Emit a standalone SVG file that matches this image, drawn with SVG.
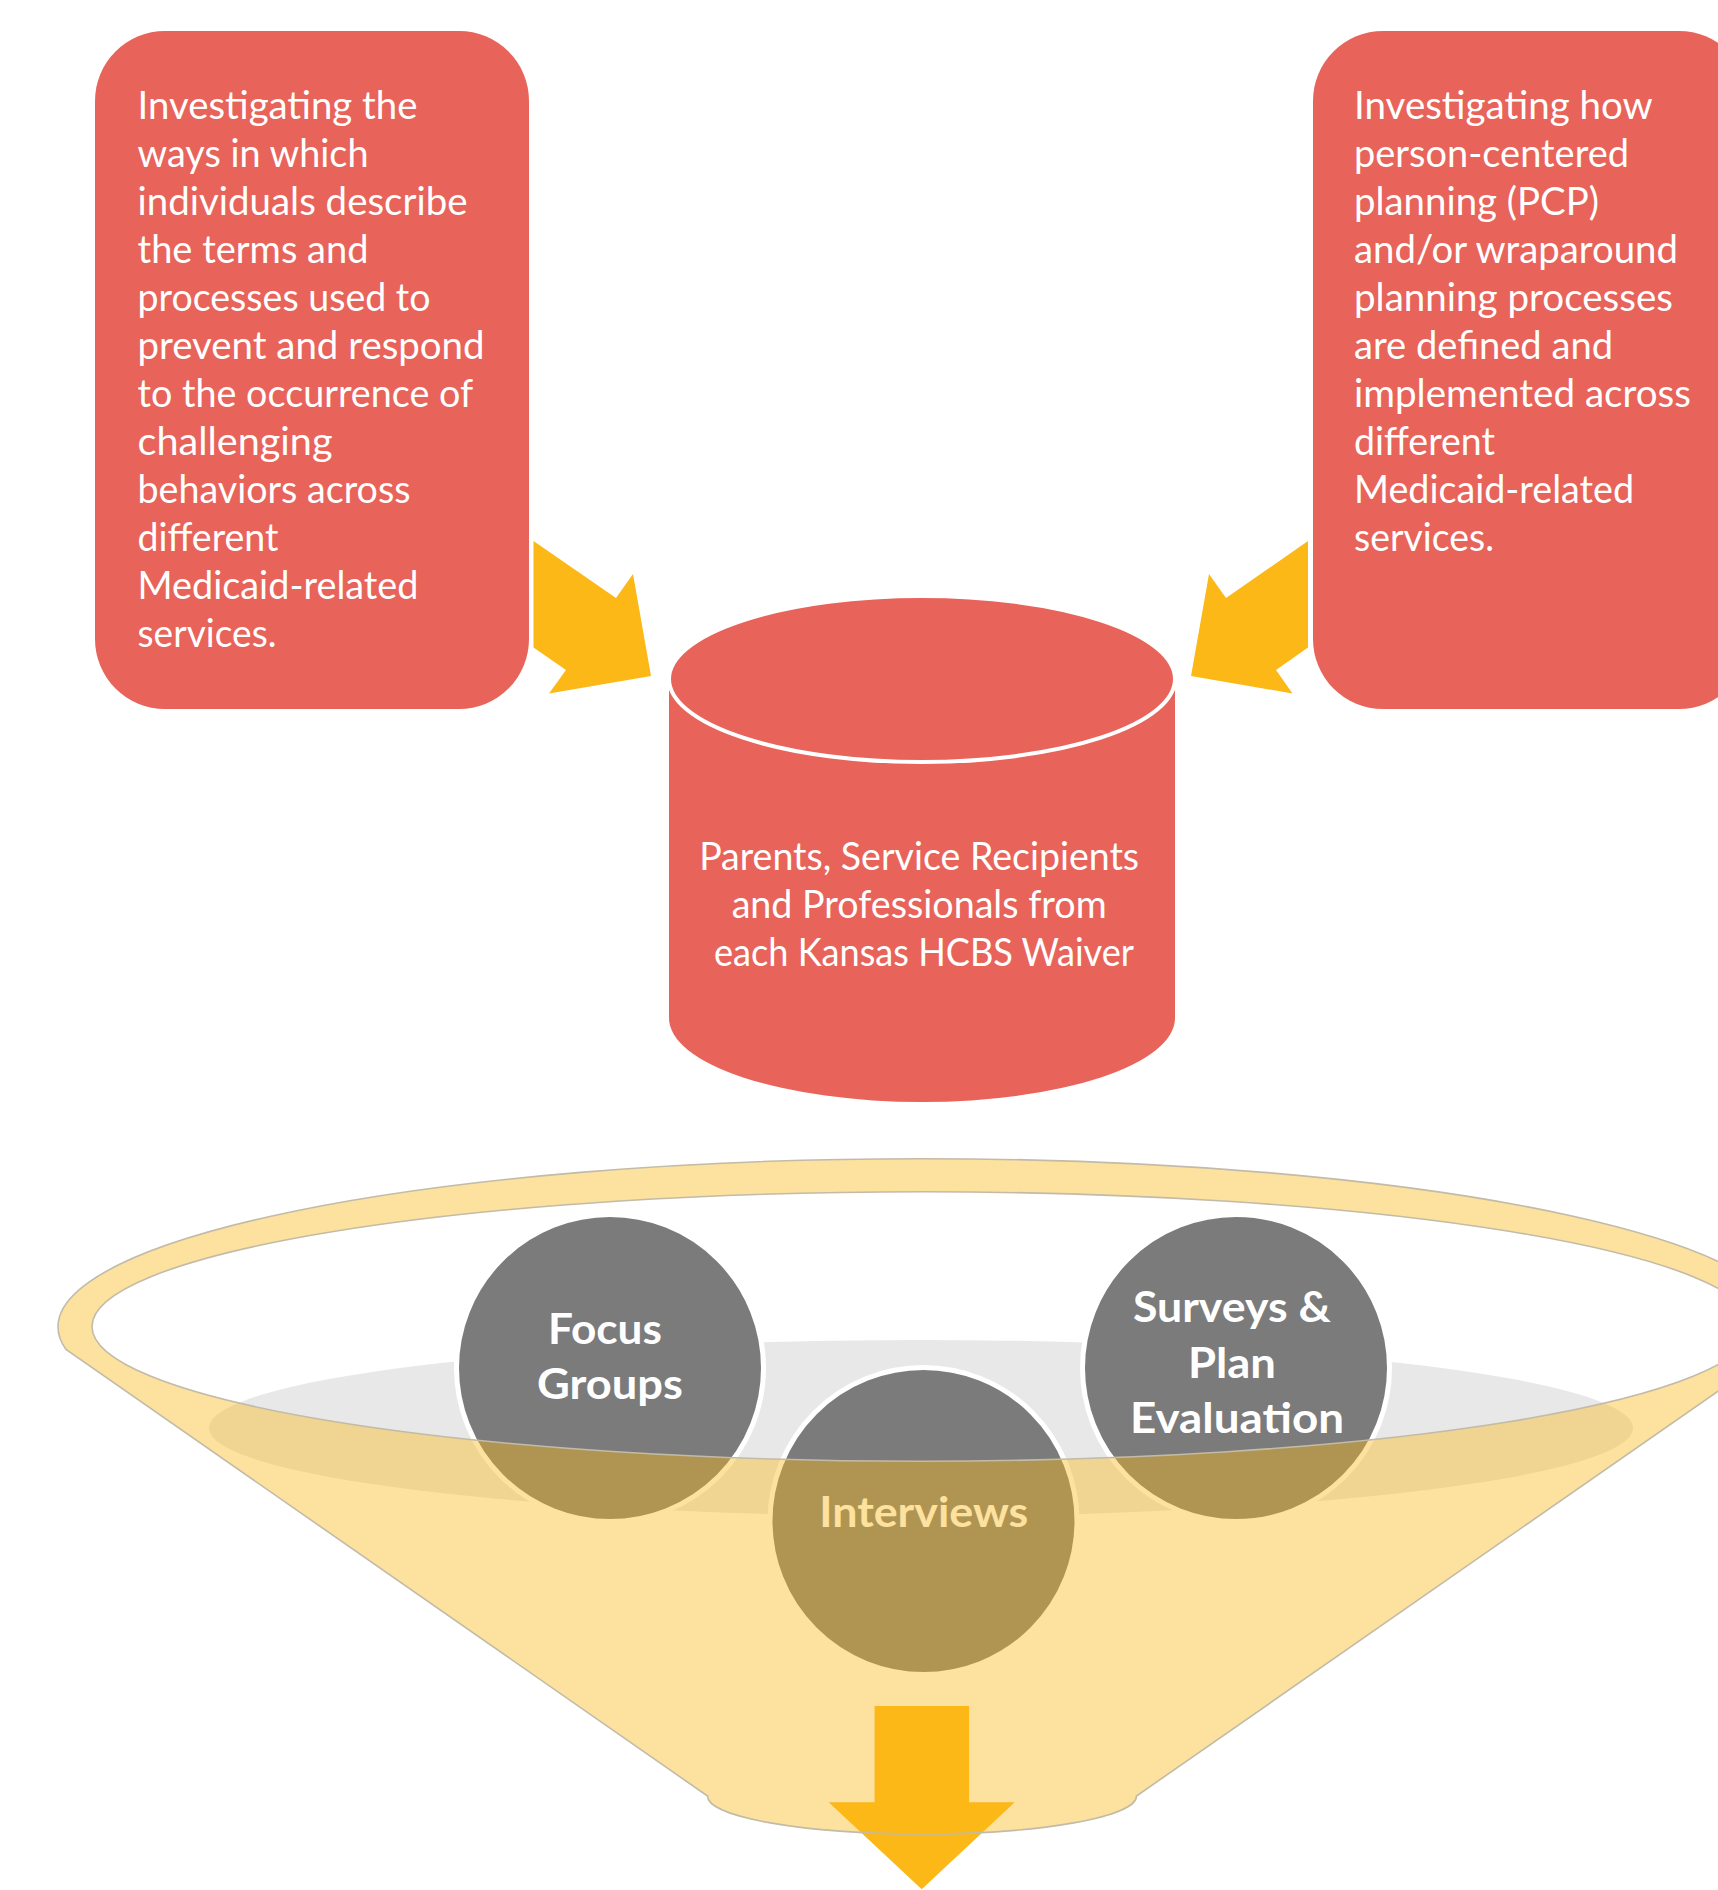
<svg xmlns="http://www.w3.org/2000/svg" width="1718" height="1890" viewBox="0 0 1718 1890">
<style>
.box{fill:#E8635A;}
.btxt{font-family:Lato,"Open Sans","Liberation Sans",sans-serif;font-size:38px;fill:#FFFFFF;}
.ctxt{font-family:Lato,"Open Sans","Liberation Sans",sans-serif;font-size:38px;fill:#FFFFFF;text-anchor:middle;}
.circ{fill:#7B7B7B;stroke:#FFFFFF;stroke-width:5;}
.ktxt{font-family:Lato,"Open Sans","Liberation Sans",sans-serif;font-size:42px;font-weight:bold;fill:#FFFFFF;text-anchor:middle;}
.arrow{fill:#FBB817;}
</style>
<rect width="1718" height="1890" fill="#FFFFFF"/>

<g id="box-left">
<rect class="box" x="95" y="31" width="434" height="678" rx="70" ry="70"/>
<text class="btxt">
<tspan x="137.5" y="118.5" textLength="280" lengthAdjust="spacingAndGlyphs">Investigating the</tspan>
<tspan x="137.5" y="166.5" textLength="231" lengthAdjust="spacingAndGlyphs">ways in which</tspan>
<tspan x="137.5" y="214.5" textLength="330" lengthAdjust="spacingAndGlyphs">individuals describe</tspan>
<tspan x="137.5" y="262.5" textLength="231" lengthAdjust="spacingAndGlyphs">the terms and</tspan>
<tspan x="137.5" y="310.5" textLength="293" lengthAdjust="spacingAndGlyphs">processes used to</tspan>
<tspan x="137.5" y="358.5" textLength="347" lengthAdjust="spacingAndGlyphs">prevent and respond</tspan>
<tspan x="137.5" y="406.5" textLength="335" lengthAdjust="spacingAndGlyphs">to the occurrence of</tspan>
<tspan x="137.5" y="454.5" textLength="195" lengthAdjust="spacingAndGlyphs">challenging</tspan>
<tspan x="137.5" y="502.5" textLength="273" lengthAdjust="spacingAndGlyphs">behaviors across</tspan>
<tspan x="137.5" y="550.5" textLength="141" lengthAdjust="spacingAndGlyphs">different</tspan>
<tspan x="137.5" y="598.5" textLength="281" lengthAdjust="spacingAndGlyphs">Medicaid-related</tspan>
<tspan x="137.5" y="646.5" textLength="139" lengthAdjust="spacingAndGlyphs">services.</tspan>
</text>
</g>

<g id="box-right">
<rect class="box" x="1313" y="31" width="436" height="678" rx="70" ry="70"/>
<text class="btxt">
<tspan x="1354" y="118.5" textLength="298" lengthAdjust="spacingAndGlyphs">Investigating how</tspan>
<tspan x="1354" y="166.5" textLength="275" lengthAdjust="spacingAndGlyphs">person-centered</tspan>
<tspan x="1354" y="214.5" textLength="245" lengthAdjust="spacingAndGlyphs">planning (PCP)</tspan>
<tspan x="1354" y="262.5" textLength="324" lengthAdjust="spacingAndGlyphs">and/or wraparound</tspan>
<tspan x="1354" y="310.5" textLength="319" lengthAdjust="spacingAndGlyphs">planning processes</tspan>
<tspan x="1354" y="358.5" textLength="259" lengthAdjust="spacingAndGlyphs">are defined and</tspan>
<tspan x="1354" y="406.5" textLength="337" lengthAdjust="spacingAndGlyphs">implemented across</tspan>
<tspan x="1354" y="454.5" textLength="141" lengthAdjust="spacingAndGlyphs">different</tspan>
<tspan x="1354" y="502.5" textLength="280" lengthAdjust="spacingAndGlyphs">Medicaid-related</tspan>
<tspan x="1354" y="550.5" textLength="140" lengthAdjust="spacingAndGlyphs">services.</tspan>
</text>
</g>

<g id="cylinder">
<path class="box" d="M669 679 L669 1018 A253 84 0 0 0 1175 1018 L1175 679 Z"/>
<ellipse class="box" cx="922" cy="679" rx="253" ry="83" stroke="#FFFFFF" stroke-width="4"/>
<text class="ctxt">
<tspan x="924" y="870" textLength="440" lengthAdjust="spacingAndGlyphs">Parents, Service Recipients</tspan>
<tspan x="924" y="918" textLength="375" lengthAdjust="spacingAndGlyphs">and Professionals from</tspan>
<tspan x="924" y="966" textLength="420" lengthAdjust="spacingAndGlyphs">each Kansas HCBS Waiver</tspan>
</text>
</g>

<g id="funnel-liquid">
<ellipse cx="921" cy="1428" rx="712" ry="88" fill="#E8E8E8"/>
</g>

<g id="node-focus-groups">
<circle class="circ" cx="610" cy="1368" r="153.5"/>
<text class="ktxt">
<tspan x="610" y="1344" textLength="114" lengthAdjust="spacingAndGlyphs">Focus</tspan>
<tspan x="610" y="1398.5" textLength="146" lengthAdjust="spacingAndGlyphs">Groups</tspan>
</text>
</g>

<g id="node-surveys">
<circle class="circ" cx="1236" cy="1368" r="153.5"/>
<text class="ktxt">
<tspan x="1237" y="1322" textLength="198" lengthAdjust="spacingAndGlyphs">Surveys &amp;</tspan>
<tspan x="1237" y="1378" textLength="88" lengthAdjust="spacingAndGlyphs">Plan</tspan>
<tspan x="1237" y="1433" textLength="214" lengthAdjust="spacingAndGlyphs">Evaluation</tspan>
</text>
</g>

<g id="node-interviews">
<circle class="circ" cx="923.5" cy="1521" r="153.5"/>
<text class="ktxt">
<tspan x="923.8" y="1526.7" textLength="209" lengthAdjust="spacingAndGlyphs">Interviews</tspan>
</text>
</g>

<g id="connectors">
<polygon class="arrow" points="533.5,541 616,598 633,574 651,676 549,693.5 566,670 533.5,647.5"/>
<polygon class="arrow" points="1308,541 1226,598 1209,574 1191,676 1292.5,693.5 1276,670 1308,647.5"/>
<polygon class="arrow" points="874.6,1706 969.1,1706 969.1,1802.3 1014.7,1802.3 921.7,1889.3 828.7,1802.3 874.6,1802.3"/>
</g>

<g id="funnel">
<path d="M66 1349.5 A864 168 0 1 1 1778 1349.5 L1136.5 1796 A214.5 38 0 0 1 707.5 1796 Z M92 1326.5 A830 134.7 0 1 0 1752 1326.5 A830 134.7 0 1 0 92 1326.5 Z" fill="#FBB817" fill-opacity="0.42" fill-rule="evenodd" stroke="#C2BBA8" stroke-width="1.6"/>
</g>
</svg>
